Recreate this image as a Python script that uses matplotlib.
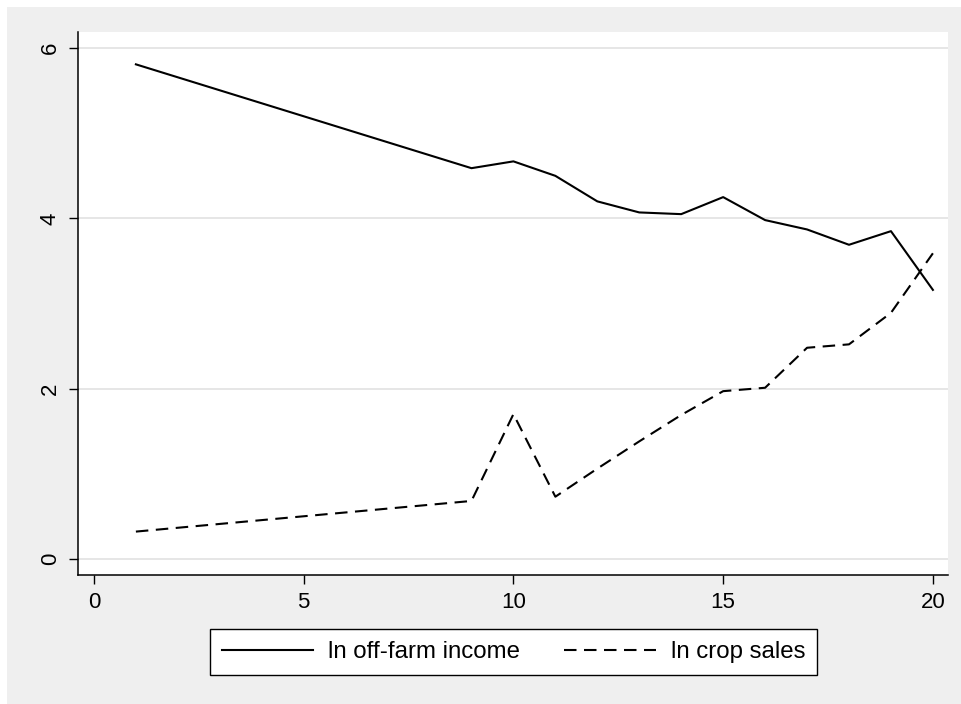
#!/usr/bin/env python3
import matplotlib
matplotlib.use('Agg')
import matplotlib.pyplot as plt
from matplotlib.patches import Rectangle

plt.rcParams['font.family'] = ['Liberation Sans', 'DejaVu Sans']

# survey round and the two log series
off_x = [1, 9, 10, 11, 12, 13, 14, 15, 16, 17, 18, 19, 20]
off_farm = [5.81, 4.59, 4.67, 4.50, 4.20, 4.07, 4.05, 4.25, 3.98, 3.87, 3.69, 3.85, 3.16]
crop_x = [1, 9, 10, 11, 12, 13, 14, 15, 16, 17, 18, 19, 20]
crop_sales = [0.32, 0.68, 1.70, 0.73, 1.06, 1.38, 1.69, 1.97, 2.01, 2.48, 2.52, 2.89, 3.59]
labels = ['ln off-farm income', 'ln crop sales']

W, H = 962, 704
fig = plt.figure(figsize=(W / 100, H / 100), dpi=100, facecolor='white')
# stata-style grey graph region
fig.patches.append(Rectangle((7 / W, 0), 1, 1 - 7 / H, transform=fig.transFigure,
                             facecolor='#efefef', edgecolor='none', zorder=-10))

ax = fig.add_axes([78 / W, (H - 575) / H, 870 / W, 543 / H])
ax.set_facecolor('white')

ax.plot(off_x, off_farm, color='black', lw=1.5, label=labels[0])
ax.plot(crop_x, crop_sales, color='black', lw=1.5, dashes=(6, 3.6), label=labels[1])

ax.set_xlim(-0.38, 20.36)
ax.set_ylim(-0.19, 6.19)
ax.set_xticks([0, 5, 10, 15, 20])
ax.set_yticks([0, 2, 4, 6])
ax.grid(axis='y', color='#e6e6e6', lw=1.4)
ax.set_axisbelow(True)

ax.spines['top'].set_visible(False)
ax.spines['right'].set_visible(False)
ax.spines['left'].set_linewidth(1.1)
ax.spines['bottom'].set_linewidth(1.1)
ax.tick_params(direction='out', length=6.5, width=1.0, labelsize=16, pad=6)
for lab in ax.get_yticklabels():
    lab.set_rotation(90)
    lab.set_va('center')

leg = ax.legend(loc='center', bbox_to_anchor=(513.5 / W, 52 / H),
                bbox_transform=fig.transFigure, ncol=2, fontsize=17.3,
                frameon=True, fancybox=False, edgecolor='black',
                handlelength=3.8, handletextpad=0.62, columnspacing=1.85,
                borderpad=0.5, borderaxespad=0)
leg.get_frame().set_linewidth(1.0)
leg.get_frame().set_alpha(1)

plt.savefig('out.png', dpi=100)
